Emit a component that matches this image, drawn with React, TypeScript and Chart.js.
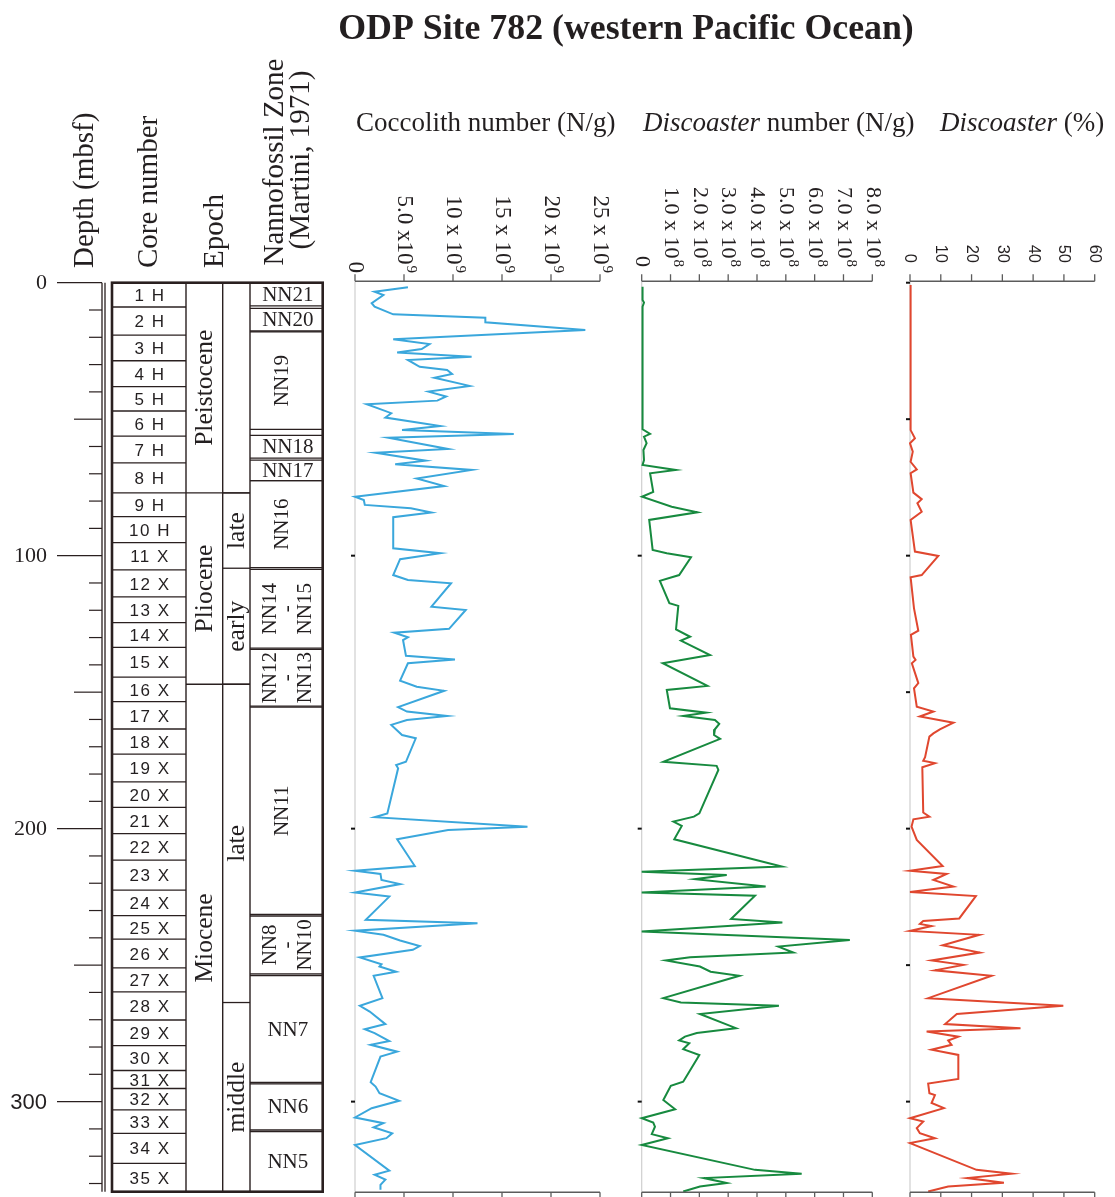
import React, { useEffect, useRef } from "react";
import { Chart, registerables } from "chart.js";

Chart.register(...registerables);

// ---------------- DATA ----------------
const TITLE = "ODP Site 782 (western Pacific Ocean)";

const depthTickLabels = ["0", "100", "200", "300"];
const depthTickValues = [0, 100, 200, 300];

const coreLabels = [
  "1 H", "2 H", "3 H", "4 H", "5 H", "6 H", "7 H", "8 H", "9 H", "10 H",
  "11 X", "12 X", "13 X", "14 X", "15 X", "16 X", "17 X", "18 X", "19 X", "20 X",
  "21 X", "22 X", "23 X", "24 X", "25 X", "26 X", "27 X", "28 X", "29 X", "30 X",
  "31 X", "32 X", "33 X", "34 X", "35 X",
];
const coreBoundaries = [
  0, 8.9, 19.2, 28.6, 38.1, 47.0, 56.2, 66.0, 77.0, 85.7, 95.2, 105.2, 115.1, 124.5,
  133.6, 144.5, 153.5, 163.5, 172.7, 182.9, 192.2, 201.8, 211.5, 222.5, 231.9, 240.5,
  251.0, 259.8, 270.1, 279.5, 288.6, 295.2, 303.0, 311.6, 322.6, 333,
];

const epochNames = ["Pleistocene", "Pliocene", "Miocene"];
const epochBoundaries = [0, 77.0, 147.1, 333];

const subEpochNames = ["", "late", "early", "late", "middle"];
const subEpochBoundaries = [0, 77.0, 104.6, 147.1, 263.7, 333];

const zoneLabels = [
  ["NN21"], ["NN20"], ["NN19"], ["NN18"], ["NN17"], ["NN16"], ["NN14", "-", "NN15"],
  ["NN12", "-", "NN13"], ["NN11"], ["NN8", "-", "NN10"], ["NN7"], ["NN6"], ["NN5"],
];
const zoneTops = [0, 9.4, 18.0, 55.9, 65.0, 72.5, 105.0, 134.3, 155.5, 232.0, 253.8, 293.5, 311.0];
const zoneBottoms = [8.5, 17.7, 53.7, 64.3, 72.5, 104.4, 133.9, 155.1, 231.4, 253.2, 293.0, 310.4, 333];
const zoneVertical = [false, false, true, false, false, true, true, true, true, true, false, false, false];

// Coccolith number (x10^9 N/g) vs depth (mbsf)
const coccoDepth = [
  1.7, 3.3, 4.5, 7.5, 8.8, 11.6, 12.8, 14.5, 17.3, 20.7, 22.5, 24.3, 25.6, 27.1, 28.3, 30.8,
  32.0, 33.4, 34.8, 37.8, 39.9, 41.7, 43.2, 44.5, 47.8, 49.4, 52.5, 54.0, 55.4, 56.8, 60.9,
  62.3, 65.2, 66.5, 68.6, 71.7, 74.5, 78.4, 79.6, 81.4, 82.6, 84.2, 85.9, 87.8, 97.3, 99.1,
  101.3, 107.1, 108.9, 110.1, 118.7, 119.9, 126.8, 128.2, 129.9, 130.9, 136.7, 138.0, 139.4,
  145.8, 148.0, 149.5, 155.5, 157.1, 158.7, 160.2, 162.0, 165.7, 166.9, 175.5, 176.7, 177.9,
  194.4, 195.8, 199.3, 200.5, 203.9, 213.7, 215.4, 216.6, 218.8, 220.3, 223.4, 224.9, 233.4,
  234.7, 237.4, 238.9, 241.0, 243.0, 244.4, 247.2, 249.7, 250.5, 252.4, 253.9, 262.1, 264.9,
  267.0, 271.6, 273.5, 274.9, 277.8, 279.2, 281.7, 283.5, 292.9, 294.5, 296.9, 299.7, 302.4,
  305.8, 307.9, 309.4, 311.6, 313.4, 315.9, 325.3, 326.8, 328.6, 330.5, 332.3,
];
const coccoValue = [
  5.4, 2.0, 2.9, 1.7, 2.0, 3.9, 13.3, 13.3, 23.5, 3.9, 7.6, 6.8, 4.3, 11.9, 5.4, 6.6,
  9.4, 9.9, 8.1, 11.7, 7.5, 9.3, 8.4, 1.2, 3.7, 3.1, 8.7, 4.8, 16.2, 3.4, 9.5,
  2.1, 7.2, 4.1, 11.9, 6.3, 9.1, 0.0, 0.9, 1.0, 5.7, 7.8, 3.9, 3.9, 3.9, 8.7,
  4.6, 3.9, 5.4, 9.8, 7.8, 11.3, 9.6, 4.0, 5.4, 4.9, 5.2, 10.2, 5.4,
  4.6, 6.3, 9.1, 4.4, 5.3, 9.4, 5.3, 3.7, 4.8, 6.2, 5.2, 4.2, 4.4,
  3.3, 2.0, 17.6, 9.5, 4.3, 6.1, 0.0, 2.6, 2.7, 4.6, 0.0, 3.5, 1.1,
  12.5, 0.0, 2.9, 4.6, 6.6, 5.9, 0.5, 2.7, 2.5, 4.2, 1.9, 2.8, 0.5,
  1.5, 3.1, 1.0, 2.0, 3.5, 1.6, 4.3, 2.6, 1.6, 2.1, 2.5, 4.5, 1.7,
  0.0, 2.9, 1.9, 3.8, 3.2, 0.0, 3.5, 2.0, 3.1, 2.6, 2.6,
];

// Discoaster number (x10^8 N/g) vs depth
const discoNumDepth = [
  1.5, 6.3, 7.3, 8.8, 53.7, 55.4, 56.4, 58.8, 61.3, 65.0, 66.8, 68.6, 69.8, 76.6, 78.4,
  82.1, 84.1, 86.9, 97.9, 99.1, 100.6, 107.1, 109.2, 117.4, 118.4, 127.0, 129.7, 131.1,
  136.4, 139.4, 147.7, 149.2, 155.9, 157.5, 158.7, 160.2, 161.6, 163.6, 165.7, 167.1,
  175.5, 177.0, 178.5, 194.4, 195.6, 197.4, 199.0, 203.9, 213.9, 215.8, 217.0, 218.5,
  221.2, 223.4, 224.6, 233.1, 234.4, 237.7, 240.8, 243.2, 245.4, 247.1, 248.3, 250.5,
  252.4, 253.9, 262.1, 263.7, 264.9, 267.9, 273.1, 274.9, 276.2, 277.6, 278.6, 280.8,
  282.9, 292.7, 294.2, 299.4, 302.8, 306.1, 307.7, 309.2, 311.9, 313.4, 315.9, 325.0,
  326.4, 328.0, 329.8, 331.1, 332.9,
];
const discoNumValue = [
  0.03, 0.03, 0.08, 0.03, 0.03, 0.29, 0.08, 0.17, 0.06, 0.08, 0.03, 1.18, 0.29, 0.40, 0.01,
  1.04, 1.93, 0.26, 0.38, 0.87, 1.71, 1.30, 0.63, 0.96, 1.27, 1.19, 1.68, 1.36,
  2.37, 0.73, 2.28, 0.87, 0.98, 2.23, 1.44, 2.54, 2.69, 2.54, 2.51, 2.72,
  0.75, 2.60, 2.66, 2.00, 1.81, 1.10, 1.39, 1.13, 4.86, 0.0, 2.95, 1.85,
  4.30, 0.0, 3.93, 3.10, 4.88, 0.0, 7.22, 4.74, 5.26, 1.68, 0.84, 2.02,
  2.39, 3.39, 0.75, 1.36, 4.76, 2.02, 3.27, 1.91, 1.50, 1.30, 1.65, 1.44,
  2.00, 1.44, 1.01, 0.75, 1.16, 0.0, 0.40, 0.46, 0.35, 0.91, 0.0, 3.93,
  5.55, 2.16, 2.95, 2.02, 1.44,
];

// Discoaster (%) vs depth
const discoPctDepth = [
  0.8, 54.0, 57.0, 58.8, 61.9, 65.6, 68.4, 69.8, 76.9, 79.3, 80.8, 83.9, 86.9, 98.5, 100.1,
  107.1, 107.9, 119.3, 127.5, 129.0, 137.0, 138.2, 139.4, 146.7, 148.6, 155.3, 157.1, 158.9,
  161.2, 163.6, 165.1, 166.3, 173.8, 175.1, 176.0, 177.5, 194.1, 195.6, 196.6, 199.3, 204.1,
  213.7, 215.4, 216.6, 218.8, 221.2, 223.2, 224.7, 232.9, 233.8, 234.9, 235.7, 237.5, 238.9,
  242.7, 245.4, 248.3, 249.9, 251.9, 253.9, 262.1, 264.9, 267.9, 271.6, 273.1, 274.3, 276.2,
  277.6, 279.2, 281.0, 282.9, 291.7, 293.4, 296.9, 297.6, 300.5, 302.4, 306.1, 307.3, 309.7,
  311.6, 313.4, 315.2, 325.0, 326.4, 328.0, 329.7, 331.1, 332.9,
];
const discoPctValue = [
  0.2, 0.2, 1.6, 0.0, 0.9, 0.2, 2.2, 0.2, 1.1, 3.8, 2.4, 3.8, 0.2, 1.6, 9.2,
  3.8, 0.2, 1.3, 2.7, 0.3, 1.1, 1.8, 0.6, 2.7, 1.3, 2.2, 7.6, 3.2,
  14.1, 9.7, 7.6, 6.3, 4.9, 4.3, 8.1, 4.0, 4.3, 6.3, 1.1, 0.5, 2.2,
  10.6, 0.0, 11.9, 7.6, 14.1, 0.0, 21.4, 16.0, 4.3, 3.2, 7.0, 0.0, 22.5,
  10.6, 22.7, 7.0, 17.3, 8.1, 26.5, 5.9, 49.8, 15.2, 11.4, 35.9, 5.4, 15.7,
  12.4, 13.5, 7.0, 15.7, 15.7, 5.9, 6.3, 8.1, 7.0, 11.0, 0.0, 4.3, 2.2,
  3.2, 8.1, 0.0, 21.6, 33.0, 18.6, 30.5, 12.4, 5.9,
];

// Axis ticks
const coccoTickValues = [0, 5, 10, 15, 20, 25];
const coccoTickMain = ["0", "5.0 x10", "10 x 10", "15 x 10", "20 x 10", "25 x 10"];
const coccoTickExp = ["", "9", "9", "9", "9", "9"];

const discoNumTickValues = [0, 1, 2, 3, 4, 5, 6, 7, 8];
const discoNumTickMain = ["0", "1.0 x 10", "2.0 x 10", "3.0 x 10", "4.0 x 10", "5.0 x 10", "6.0 x 10", "7.0 x 10", "8.0 x 10"];
const discoNumTickExp = ["", "8", "8", "8", "8", "8", "8", "8", "8"];

const discoPctTickValues = [0, 10, 20, 30, 40, 50, 60];
const discoPctTickMain = ["0", "10", "20", "30", "40", "50", "60"];
const discoPctTickExp = ["", "", "", "", "", "", ""];

const panelDepthMarks12 = [100, 200, 300];
const panelDepthMarks3 = [0, 50, 100, 150, 200, 250, 300];

// ---------------- LAYOUT / STYLE ----------------
const W = 1115;
const H = 1197;
const PLOT_TOP = 282.7;
const PLOT_BOTTOM = 1191.7;
const DEPTH_MAX = 333;
const SERIF = '"Liberation Serif", "Times New Roman", serif';
const SANS = '"Liberation Sans", Arial, sans-serif';
const INK = "#231f20";

type PanelCfg = {
  id: string;
  left: number;
  right: number;
  xMax: number;
  depths: number[];
  values: number[];
  color: string;
  tickValues: number[];
  tickMain: string[];
  tickExp: string[];
  font: string;
  expFont: string;
  labelEnd: number;
  depthMarks: number[];
};

function drawRotatedTick(
  ctx: CanvasRenderingContext2D, x: number, endY: number, main: string, exp: string,
  font: string, expFont: string
) {
  ctx.save();
  ctx.translate(x, endY);
  ctx.rotate(Math.PI / 2);
  ctx.font = font;
  const mw = ctx.measureText(main).width;
  ctx.font = expFont;
  const ew = exp ? ctx.measureText(exp).width + 1 : 0;
  const start = -(mw + ew);
  ctx.textAlign = "left";
  ctx.textBaseline = "middle";
  ctx.fillStyle = INK;
  ctx.font = font;
  ctx.fillText(main, start, 0);
  if (exp) {
    ctx.font = expFont;
    ctx.fillText(exp, start + mw + 1, -7);
  }
  ctx.restore();
}

function makePanelPlugin(cfg: PanelCfg) {
  return {
    id: "panelAxes_" + cfg.id,
    beforeDatasetsDraw(chart: any) {
      const ctx = chart.ctx as CanvasRenderingContext2D;
      const a = chart.chartArea;
      ctx.save();
      ctx.strokeStyle = "#cfcfcf";
      ctx.lineWidth = 1.2;
      ctx.beginPath();
      ctx.moveTo(a.left, a.top - 1);
      ctx.lineTo(a.left, a.bottom);
      ctx.stroke();
      ctx.restore();
    },
    afterDatasetsDraw(chart: any) {
      const ctx = chart.ctx as CanvasRenderingContext2D;
      const a = chart.chartArea;
      const xs = chart.scales.x;
      const ys = chart.scales.y;
      ctx.save();
      // depth marks
      ctx.strokeStyle = "#111";
      ctx.lineWidth = 2;
      for (const d of cfg.depthMarks) {
        const y = ys.getPixelForValue(d);
        ctx.beginPath();
        ctx.moveTo(a.left - 4, y);
        ctx.lineTo(a.left, y);
        ctx.stroke();
      }
      // top & bottom axes
      ctx.strokeStyle = "#5c5c5c";
      ctx.lineWidth = 1.5;
      const topY = a.top - 1.5;
      const botY = a.bottom + 0.5;
      ctx.beginPath();
      ctx.moveTo(a.left, topY);
      ctx.lineTo(a.right, topY);
      ctx.moveTo(a.left, botY);
      ctx.lineTo(a.right, botY);
      ctx.stroke();
      ctx.lineWidth = 1.3;
      for (const v of cfg.tickValues) {
        const x = xs.getPixelForValue(v);
        ctx.beginPath();
        ctx.moveTo(x, topY);
        ctx.lineTo(x, topY - 7);
        ctx.moveTo(x, botY);
        ctx.lineTo(x, botY + 6);
        ctx.stroke();
      }
      cfg.tickValues.forEach((v, i) => {
        const x = xs.getPixelForValue(v);
        drawRotatedTick(ctx, x, cfg.labelEnd, cfg.tickMain[i], cfg.tickExp[i], cfg.font, cfg.expFont);
      });
      ctx.restore();
    },
  };
}

function drawVertical(
  ctx: CanvasRenderingContext2D, text: string, x: number, y: number,
  align: CanvasTextAlign, font: string
) {
  ctx.save();
  ctx.translate(x, y);
  ctx.rotate(-Math.PI / 2);
  ctx.font = font;
  ctx.textAlign = align;
  ctx.textBaseline = "alphabetic";
  ctx.fillStyle = INK;
  ctx.fillText(text, 0, 0);
  ctx.restore();
}

const columnsPlugin = {
  id: "stratColumns",
  afterDraw(chart: any) {
    const ctx = chart.ctx as CanvasRenderingContext2D;
    const ys = chart.scales.y;
    const Y = (d: number) => ys.getPixelForValue(d);
    ctx.save();
    ctx.fillStyle = INK;

    // Title
    ctx.font = `bold 35.8px ${SERIF}`;
    ctx.textAlign = "center";
    ctx.textBaseline = "alphabetic";
    ctx.fillText(TITLE, 626, 39);

    // Panel headers
    ctx.textAlign = "left";
    ctx.font = `27px ${SERIF}`;
    ctx.fillText("Coccolith number (N/g)", 356, 131);
    ctx.font = `italic 27px ${SERIF}`;
    ctx.fillText("Discoaster", 643, 131);
    let w = ctx.measureText("Discoaster").width;
    ctx.font = `27px ${SERIF}`;
    ctx.fillText(" number (N/g)", 643 + w, 131);
    ctx.font = `italic 27px ${SERIF}`;
    ctx.fillText("Discoaster", 940, 131);
    w = ctx.measureText("Discoaster").width;
    ctx.font = `27px ${SERIF}`;
    ctx.fillText(" (%)", 940 + w, 131);

    // Column headers
    const hf = `29px ${SERIF}`;
    drawVertical(ctx, "Depth (mbsf)", 93, 268, "left", hf);
    drawVertical(ctx, "Core number", 157, 268, "left", hf);
    drawVertical(ctx, "Epoch", 223, 268, "left", hf);
    drawVertical(ctx, "Nannofossil Zone", 283, 162, "center", hf);
    drawVertical(ctx, "(Martini, 1971)", 309, 160, "center", hf);

    // Depth axis
    ctx.strokeStyle = "#2a2020";
    ctx.lineWidth = 1.3;
    ctx.beginPath();
    ctx.moveTo(102, Y(0));
    ctx.lineTo(102, Y(DEPTH_MAX));
    ctx.moveTo(105, Y(0));
    ctx.lineTo(105, Y(DEPTH_MAX));
    ctx.stroke();
    ctx.lineWidth = 1.2;
    for (let d = 0; d <= 330; d += 10) {
      const len = d % 100 === 0 ? 45 : d % 50 === 0 ? 28 : 13;
      const y = Y(d);
      ctx.beginPath();
      ctx.moveTo(102 - len, y);
      ctx.lineTo(102, y);
      ctx.stroke();
    }
    ctx.textAlign = "right";
    ctx.textBaseline = "middle";
    depthTickValues.forEach((d, i) => {
      ctx.font = d === 300 ? `22px ${SANS}` : `22px ${SERIF}`;
      ctx.fillText(depthTickLabels[i], 47, Y(d) + 1);
    });

    // Column frame geometry
    const xCoreL = 112, xCoreR = 186, xEpR = 222.7, xSubR = 250, xZoneR = 322.7;

    // Core rows
    ctx.strokeStyle = "#2a2020";
    ctx.lineWidth = 1.3;
    for (let i = 0; i < coreBoundaries.length; i++) {
      const y = Y(coreBoundaries[i]);
      ctx.beginPath();
      ctx.moveTo(xCoreL, y);
      ctx.lineTo(xCoreR, y);
      ctx.stroke();
    }
    ctx.font = `17px ${SANS}`;
    (ctx as any).letterSpacing = "1.5px";
    ctx.textAlign = "center";
    ctx.textBaseline = "middle";
    coreLabels.forEach((t, i) => {
      const yc = (Y(coreBoundaries[i]) + Y(coreBoundaries[i + 1])) / 2 + 1.5;
      ctx.fillText(t, (xCoreL + xCoreR) / 2 + 1, yc);
    });
    (ctx as any).letterSpacing = "0px";

    // Epoch boundaries
    for (let i = 1; i < epochBoundaries.length - 1; i++) {
      const y = Y(epochBoundaries[i]);
      ctx.beginPath();
      ctx.moveTo(xCoreR, y);
      ctx.lineTo(xSubR, y);
      ctx.stroke();
    }
    for (let i = 1; i < subEpochBoundaries.length - 1; i++) {
      const y = Y(subEpochBoundaries[i]);
      ctx.beginPath();
      ctx.moveTo(xEpR, y);
      ctx.lineTo(xSubR, y);
      ctx.stroke();
    }
    const ef = `25.5px ${SERIF}`;
    epochNames.forEach((t, i) => {
      const yc = (Y(epochBoundaries[i]) + Y(epochBoundaries[i + 1])) / 2;
      drawVertical(ctx, t, (xCoreR + xEpR) / 2 + 7.5, yc, "center", ef);
    });
    subEpochNames.forEach((t, i) => {
      if (!t) return;
      const yc = (Y(subEpochBoundaries[i]) + Y(subEpochBoundaries[i + 1])) / 2;
      drawVertical(ctx, t, (xEpR + xSubR) / 2 + 7.5, yc, "center", ef);
    });

    // Zones
    const zf = `21px ${SERIF}`;
    const zc = (xSubR + xZoneR) / 2;
    zoneLabels.forEach((lines, i) => {
      const y0 = Y(zoneTops[i]);
      const y1 = Y(zoneBottoms[i]);
      ctx.beginPath();
      ctx.moveTo(xSubR, y0);
      ctx.lineTo(xZoneR, y0);
      ctx.moveTo(xSubR, y1);
      ctx.lineTo(xZoneR, y1);
      ctx.stroke();
      const yc = (y0 + y1) / 2;
      ctx.fillStyle = INK;
      if (!zoneVertical[i]) {
        ctx.font = zf;
        ctx.textAlign = "center";
        ctx.textBaseline = "middle";
        ctx.fillText(lines[0], zc + 1.5, yc + 1);
      } else {
        ctx.save();
        ctx.translate(zc + 1.5, yc);
        ctx.rotate(-Math.PI / 2);
        ctx.font = zf;
        ctx.textAlign = "center";
        ctx.textBaseline = "middle";
        if (lines.length === 1) {
          ctx.fillText(lines[0], 0, -5);
        } else {
          const step = 17.5;
          lines.forEach((ln, k) => {
            ctx.fillText(ln, 0, (k - 1) * step);
          });
        }
        ctx.restore();
      }
    });

    // Vertical column lines
    ctx.lineWidth = 1.4;
    ctx.beginPath();
    for (const x of [xCoreR, xEpR, xSubR]) {
      ctx.moveTo(x, Y(0));
      ctx.lineTo(x, Y(DEPTH_MAX));
    }
    ctx.stroke();
    // outer frame
    ctx.lineWidth = 2.6;
    ctx.strokeRect(xCoreL, Y(0), xZoneR - xCoreL, Y(DEPTH_MAX) - Y(0));

    ctx.restore();
  },
};

const baseScales = (xMax: number) => ({
  x: { type: "linear", min: 0, max: xMax, display: false },
  y: { type: "linear", min: 0, max: DEPTH_MAX, reverse: true, display: false },
});

const panels: PanelCfg[] = [
  {
    id: "cocco", left: 355, right: 600, xMax: 25, depths: coccoDepth, values: coccoValue,
    color: "#3aa7dc", tickValues: coccoTickValues, tickMain: coccoTickMain, tickExp: coccoTickExp,
    font: `23px ${SERIF}`, expFont: `15px ${SERIF}`, labelEnd: 273, depthMarks: panelDepthMarks12,
  },
  {
    id: "discoNum", left: 641.7, right: 872.3, xMax: 8, depths: discoNumDepth, values: discoNumValue,
    color: "#178a3f", tickValues: discoNumTickValues, tickMain: discoNumTickMain, tickExp: discoNumTickExp,
    font: `22px ${SERIF}`, expFont: `15px ${SERIF}`, labelEnd: 267, depthMarks: panelDepthMarks12,
  },
  {
    id: "discoPct", left: 910, right: 1094.7, xMax: 60, depths: discoPctDepth, values: discoPctValue,
    color: "#e0472f", tickValues: discoPctTickValues, tickMain: discoPctTickMain, tickExp: discoPctTickExp,
    font: `16.5px ${SANS}`, expFont: `12px ${SANS}`, labelEnd: 263, depthMarks: panelDepthMarks3,
  },
];

export default function App() {
  const leftRef = useRef<HTMLCanvasElement | null>(null);
  const p0 = useRef<HTMLCanvasElement | null>(null);
  const p1 = useRef<HTMLCanvasElement | null>(null);
  const p2 = useRef<HTMLCanvasElement | null>(null);

  useEffect(() => {
    const charts: Chart[] = [];
    if (leftRef.current) {
      charts.push(
        new Chart(leftRef.current, {
          type: "scatter",
          data: { datasets: [] },
          options: {
            animation: false,
            responsive: false,
            devicePixelRatio: 1,
            events: [],
            layout: { padding: { left: 112, right: W - 323, top: PLOT_TOP, bottom: H - PLOT_BOTTOM } },
            plugins: { legend: { display: false }, tooltip: { enabled: false }, title: { display: false } },
            scales: baseScales(1) as any,
          },
          plugins: [columnsPlugin as any],
        })
      );
    }
    const refs = [p0, p1, p2];
    panels.forEach((cfg, i) => {
      const c = refs[i].current;
      if (!c) return;
      charts.push(
        new Chart(c, {
          type: "scatter",
          data: {
            datasets: [
              {
                data: cfg.depths.map((d, k) => ({ x: cfg.values[k], y: d })),
                showLine: true,
                borderColor: cfg.color,
                backgroundColor: cfg.color,
                borderWidth: 2,
                pointRadius: 0,
                tension: 0,
                fill: false,
                clip: false as any,
              } as any,
            ],
          },
          options: {
            animation: false,
            responsive: false,
            devicePixelRatio: 1,
            events: [],
            layout: { padding: { left: cfg.left, right: W - cfg.right, top: PLOT_TOP, bottom: H - PLOT_BOTTOM } },
            plugins: { legend: { display: false }, tooltip: { enabled: false }, title: { display: false } },
            scales: baseScales(cfg.xMax) as any,
          },
          plugins: [makePanelPlugin(cfg) as any],
        })
      );
    });
    return () => charts.forEach((c) => c.destroy());
  }, []);

  const cs: React.CSSProperties = { position: "absolute", left: 0, top: 0, width: W, height: H };
  return (
    <div style={{ position: "absolute", left: 0, top: 0, width: W, height: H, background: "#fff", overflow: "hidden" }}>
      <canvas ref={leftRef} width={W} height={H} style={cs} />
      <canvas ref={p0} width={W} height={H} style={cs} />
      <canvas ref={p1} width={W} height={H} style={cs} />
      <canvas ref={p2} width={W} height={H} style={cs} />
    </div>
  );
}
